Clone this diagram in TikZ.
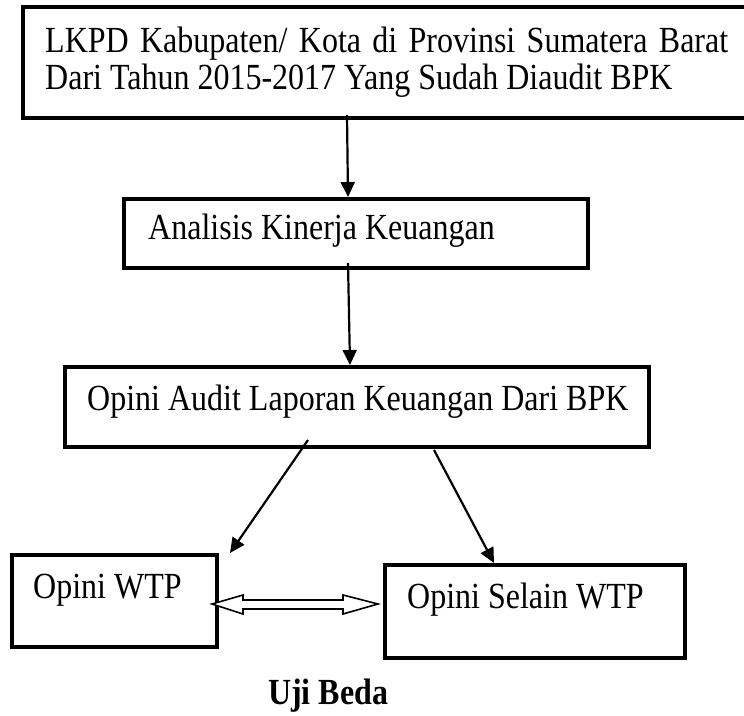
\documentclass[tikz,border=0pt]{standalone}
\usepackage{fontspec}
\setmainfont{Liberation Serif}
\usetikzlibrary{arrows.meta,calc}
\newcommand{\tallt}[1]{\scalebox{1}[1.15]{#1}}
\begin{document}
\begin{tikzpicture}[x=1pt,y=-1pt,
  boxst/.style={draw,line width=3.6pt,rectangle,inner sep=0pt,outer sep=0pt,anchor=north west},
  txt/.style={inner sep=0pt,anchor=base west,font=\fontsize{32pt}{38pt}\selectfont},
  arr/.style={line width=2.2pt,-{Triangle[width=14pt,length=15pt]}},
  dbl/.style={line width=1.6pt,fill=white,line join=miter}]
\path[use as bounding box] (0,0) rectangle (744,715);
\clip (0,0) rectangle (744,715);
% boxes
\node[boxst,minimum width=777pt,minimum height=111pt] (b1) at (23,7) {};
\node[boxst,minimum width=464pt,minimum height=69pt] (b2) at (124,199) {};
\node[boxst,minimum width=584pt,minimum height=80pt] (b3) at (65,367) {};
\node[boxst,minimum width=205pt,minimum height=92pt] (b4) at (12,555) {};
\node[boxst,minimum width=300pt,minimum height=93pt] (b5) at (385,565) {};
% texts
\node[txt] (t1a) at (45,52) {\tallt{\makebox[683pt][s]{LKPD Kabupaten/ Kota di Provinsi Sumatera Barat}}};
\node[txt] (t1b) at (45,89) {\tallt{Dari Tahun 2015-2017 Yang Sudah Diaudit BPK}};
\node[txt] (t2) at (148,239) {\tallt{Analisis Kinerja Keuangan}};
\node[txt] (t3) at (87,410) {\tallt{Opini Audit Laporan Keuangan Dari BPK}};
\node[txt] (t4) at (33,598) {\tallt{Opini WTP}};
\node[txt] (t5) at (407,608) {\tallt{Opini Selain WTP}};
\node[txt,font=\fontsize{32pt}{38pt}\selectfont\bfseries] (t6) at (268,704) {\tallt{Uji Beda}};
% connector end points
\coordinate (a1s) at (347,115);
\coordinate (a1e) at (348,197);
\coordinate (a2s) at (348,263);
\coordinate (a2e) at (350,365);
\coordinate (a3s) at (308,440);
\coordinate (a3e) at (230,553);
\coordinate (a4s) at (434,450);
\coordinate (a4e) at (494,563);
\coordinate (dl) at (212,604);
\coordinate (dr) at (378,604);
% connectors
\draw[arr] (a1s) -- (a1e);
\draw[arr] (a2s) -- (a2e);
\draw[arr] (a3s) -- (a3e);
\draw[arr] (a4s) -- (a4e);
\draw[dbl] (dl) -- ++(31,-9) -- ++(0,5) -- ($(dr)+(-35,-4)$) -- ++(0,-5) -- (dr)
  -- ++(-35,10) -- ++(0,-5) -- ($(dl)+(31,5)$) -- ++(0,5) -- cycle;
\end{tikzpicture}
\end{document}
